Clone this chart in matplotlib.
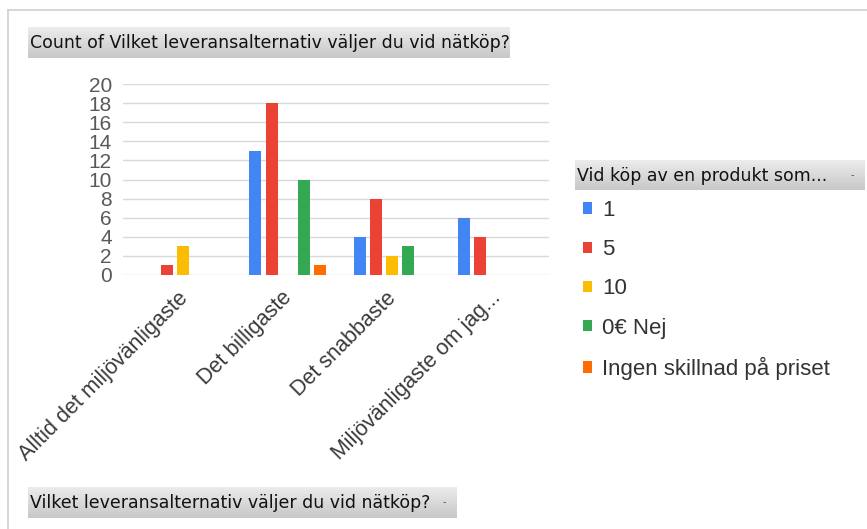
import numpy as np
import matplotlib.pyplot as plt
from matplotlib.colors import LinearSegmentedColormap
from matplotlib.lines import Line2D
from matplotlib.transforms import ScaledTranslation

categories = ['Alltid det miljövänligaste', 'Det billigaste', 'Det snabbaste',
              'Miljövänligaste om jag...']
series_names = ['1', '5', '10', '0€ Nej', 'Ingen skillnad på priset']
series_values = [
    [0, 13, 4, 6],    # 1
    [1, 18, 8, 4],    # 5
    [3, 0, 2, 0],     # 10
    [0, 10, 3, 0],    # 0€ Nej
    [0, 1, 0, 0],     # Ingen skillnad på priset
]
colors = ['#4285F4', '#EA4335', '#FBBC04', '#34A853', '#FF6D01']
yticks = list(range(0, 21, 2))

W, H = 867, 529
fig = plt.figure(figsize=(W / 100, H / 100), dpi=100)


def fx(px):
    return px / W


def fy(py):
    return 1 - py / H


grey = LinearSegmentedColormap.from_list('grey', ['#ececec', '#c8c8c8'])


def header_box(x0, y0, x1, y1, text, arrow=False):
    # grey gradient button with a field name
    bax = fig.add_axes([fx(x0), fy(y1), fx(x1 - x0), (y1 - y0) / H])
    grad = np.linspace(0, 1, 64).reshape(-1, 1)
    bax.imshow(grad, cmap=grey, aspect='auto', extent=[0, 1, 0, 1], origin='upper')
    bax.set_axis_off()
    fig.text(fx(x0 + 2), fy((y0 + y1) / 2 + 1), text, fontsize=12.5,
             family='DejaVu Sans', va='center', ha='left', color='#111111')
    if arrow:
        fig.text(fx(x1 - 13), fy((y0 + y1) / 2), '-', fontsize=7,
                 color='#555555', va='center', ha='center')


# outer frame
fig.add_artist(Line2D([fx(8), fx(8)], [fy(10), 0], color='#cfcfcf', lw=1.2))
fig.add_artist(Line2D([fx(8), 1], [fy(10), fy(10)], color='#cfcfcf', lw=1.2))

header_box(28, 27, 510, 58, 'Count of Vilket leveransalternativ väljer du vid nätköp?')
header_box(575, 160, 865, 190, 'Vid köp av en produkt som...', arrow=True)
header_box(28, 487, 457, 518, 'Vilket leveransalternativ väljer du vid nätköp?', arrow=True)

ax = fig.add_axes([fx(123), fy(275), fx(549 - 123), (275 - 84) / H])
x = np.arange(len(categories))
slot = 0.154
width = 0.115
handles = []
for i, (name, vals) in enumerate(zip(series_names, series_values)):
    bars = ax.bar(x + (i - 2) * slot, vals, width, color=colors[i], label=name, zorder=3)
    handles.append(bars)

ax.set_xlim(-0.58, 3.51)
ax.set_ylim(0, 20)
ax.set_yticks(yticks)
ax.set_yticklabels([str(t) for t in yticks], family='Liberation Sans', fontsize=15,
                   color='#595959')
ax.yaxis.grid(True, color='#d9d9d9', lw=1, zorder=0)
ax.tick_params(axis='both', length=0)
ax.tick_params(axis='y', pad=8)
ax.set_xticks(x)
ax.set_xticklabels(categories, rotation=45, ha='right', va='top', rotation_mode='anchor',
                   family='Liberation Sans', fontsize=15.5, color='#3a3a3a')
ax.tick_params(axis='x', pad=9)
shift = ScaledTranslation(-6 / 100, 0, fig.dpi_scale_trans)
for lbl in ax.get_xticklabels():
    lbl.set_transform(lbl.get_transform() + shift)
for s in ax.spines.values():
    s.set_visible(False)

fig.legend(handles=handles, labels=series_names, loc='upper left',
           bbox_to_anchor=(fx(583), fy(200)), frameon=False,
           prop={'family': 'Liberation Sans', 'size': 16}, labelcolor='#333333',
           handlelength=0.42, handleheight=0.42, handletextpad=0.45,
           labelspacing=0.82, borderpad=0, borderaxespad=0)

fig.savefig('out.png', dpi=100)
